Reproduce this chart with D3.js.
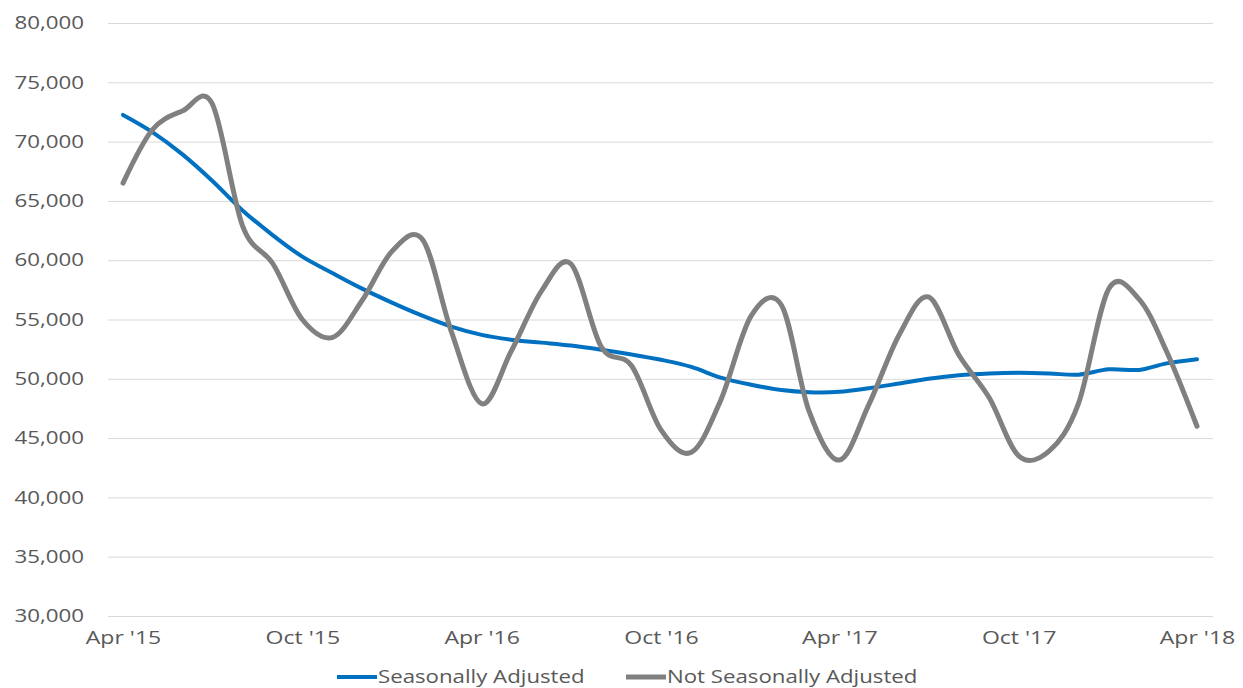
<!DOCTYPE html>
<html lang="en">
  <head>
    <title>Seasonally Adjusted vs Not Seasonally Adjusted</title>
    <script src="https://cdn.jsdelivr.net/npm/d3@7"></script>
    <style>
      body { margin: 0; background: #fff; }
      text { font-family: 'Open Sans', sans-serif; fill: #595959; }
    </style>
  </head>

  <body>
    <div id='chart'></div>

    <script type='text/javascript'>
      // monthly values, Apr '15 .. Apr '18
      let seasonallyAdjusted = [
        72250, 70800, 68900, 66700, 64200, 62100, 60300, 58900, 57600,
        56400, 55300, 54400, 53700, 53300, 53050, 52800, 52450, 52050,
        51600, 51000, 50100, 49500, 49050, 48870, 48900, 49200, 49600,
        50000, 50300, 50450, 50500, 50450, 50350, 50800, 50750, 51300,
        51650 ];
      let notSeasonallyAdjusted = [
        66500, 71000, 72600, 73200, 62900, 59700, 55000, 53500, 56600,
        60800, 61700, 54000, 47900, 52300, 57400, 59700, 52700, 51100,
        45700, 43800, 48200, 55300, 56200, 47300, 43150, 47800, 53700,
        56900, 52000, 48400, 43500, 43900, 47900, 57600, 56700, 52300,
        46000 ];
      let months = d3.timeMonth.range(new Date(2015, 3, 1), new Date(2018, 4, 1));
      let tickDates = months.filter((d, i) => i % 6 == 0);
      let yTicks = [30000, 35000, 40000, 45000, 50000, 55000, 60000, 65000, 70000, 75000, 80000];
      let seriesNames = ['Seasonally Adjusted', 'Not Seasonally Adjusted'];
      let seriesColors = ['#0070c0', '#808080'];

      let width = 1243, height = 688;
      let svg = d3.select('#chart').append('svg')
        .attr('width', width)
        .attr('height', height)

      // the original text is drawn a bit wider than the font
      function stretch(sel, k) {
        sel.each(function() {
          let w = this.getComputedTextLength();
          d3.select(this)
            .attr('textLength', w * k)
            .attr('lengthAdjust', 'spacingAndGlyphs');
        })
      }

      let x = d3.scaleTime()
        .domain([months[0], months[months.length - 1]])
        .range([123, 1197])
      let y = d3.scaleLinear()
        .domain([30000, 80000])
        .range([616, 23])

      // horizontal gridlines + y labels
      let yAxis = svg.append('g')
        .attr('transform', 'translate(108,0)')
        .call(d3.axisLeft(y)
          .tickValues(yTicks)
          .tickFormat(d3.format(','))
          .tickSize(-1105)
          .tickPadding(24))
      yAxis.select('.domain').remove()
      yAxis.selectAll('line').attr('stroke', '#d9d9d9').attr('stroke-width', 1)
      yAxis.selectAll('text')
        .attr('font-size', 18)
        .attr('fill', '#595959')
        .style('font-family', "'Open Sans', sans-serif")
        .call(stretch, 1.24)

      // x labels
      let xAxis = svg.append('g')
        .attr('transform', 'translate(0,616)')
        .call(d3.axisBottom(x)
          .tickValues(tickDates)
          .tickFormat(d3.timeFormat("%b '%y"))
          .tickSize(0)
          .tickPadding(15))
      xAxis.select('.domain').remove()
      xAxis.selectAll('text')
        .attr('font-size', 18)
        .attr('fill', '#595959')
        .style('font-family', "'Open Sans', sans-serif")
        .call(stretch, 1.28)

      let line = d3.line()
        .x((d, i) => x(months[i]))
        .y((d) => y(d))
        .curve(d3.curveCardinal.tension(0))

      svg.append('path')
        .datum(seasonallyAdjusted)
        .attr('fill', 'none')
        .attr('stroke', seriesColors[0])
        .attr('stroke-width', 4)
        .attr('stroke-linecap', 'round')
        .attr('d', line)

      svg.append('path')
        .datum(notSeasonallyAdjusted)
        .attr('fill', 'none')
        .attr('stroke', seriesColors[1])
        .attr('stroke-width', 5)
        .attr('stroke-linecap', 'round')
        .attr('stroke-linejoin', 'round')
        .attr('d', line)

      // legend
      let legendX = [337, 626];
      let legend = svg.selectAll('.legend')
        .data(seriesNames)
        .enter()
        .append('g')
        .attr('class', 'legend')
        .attr('transform', (d, i) => 'translate(' + legendX[i] + ',677)')

      legend.append('line')
        .attr('x1', 0).attr('x2', 40)
        .attr('y1', 0).attr('y2', 0)
        .attr('stroke', (d, i) => seriesColors[i])
        .attr('stroke-width', (d, i) => i == 0 ? 4 : 5)

      legend.append('text')
        .attr('x', 41)
        .attr('y', 6)
        .attr('font-size', 19)
        .text((d) => d)
        .call(stretch, 1.17)
    </script>
  </body>
</html>
